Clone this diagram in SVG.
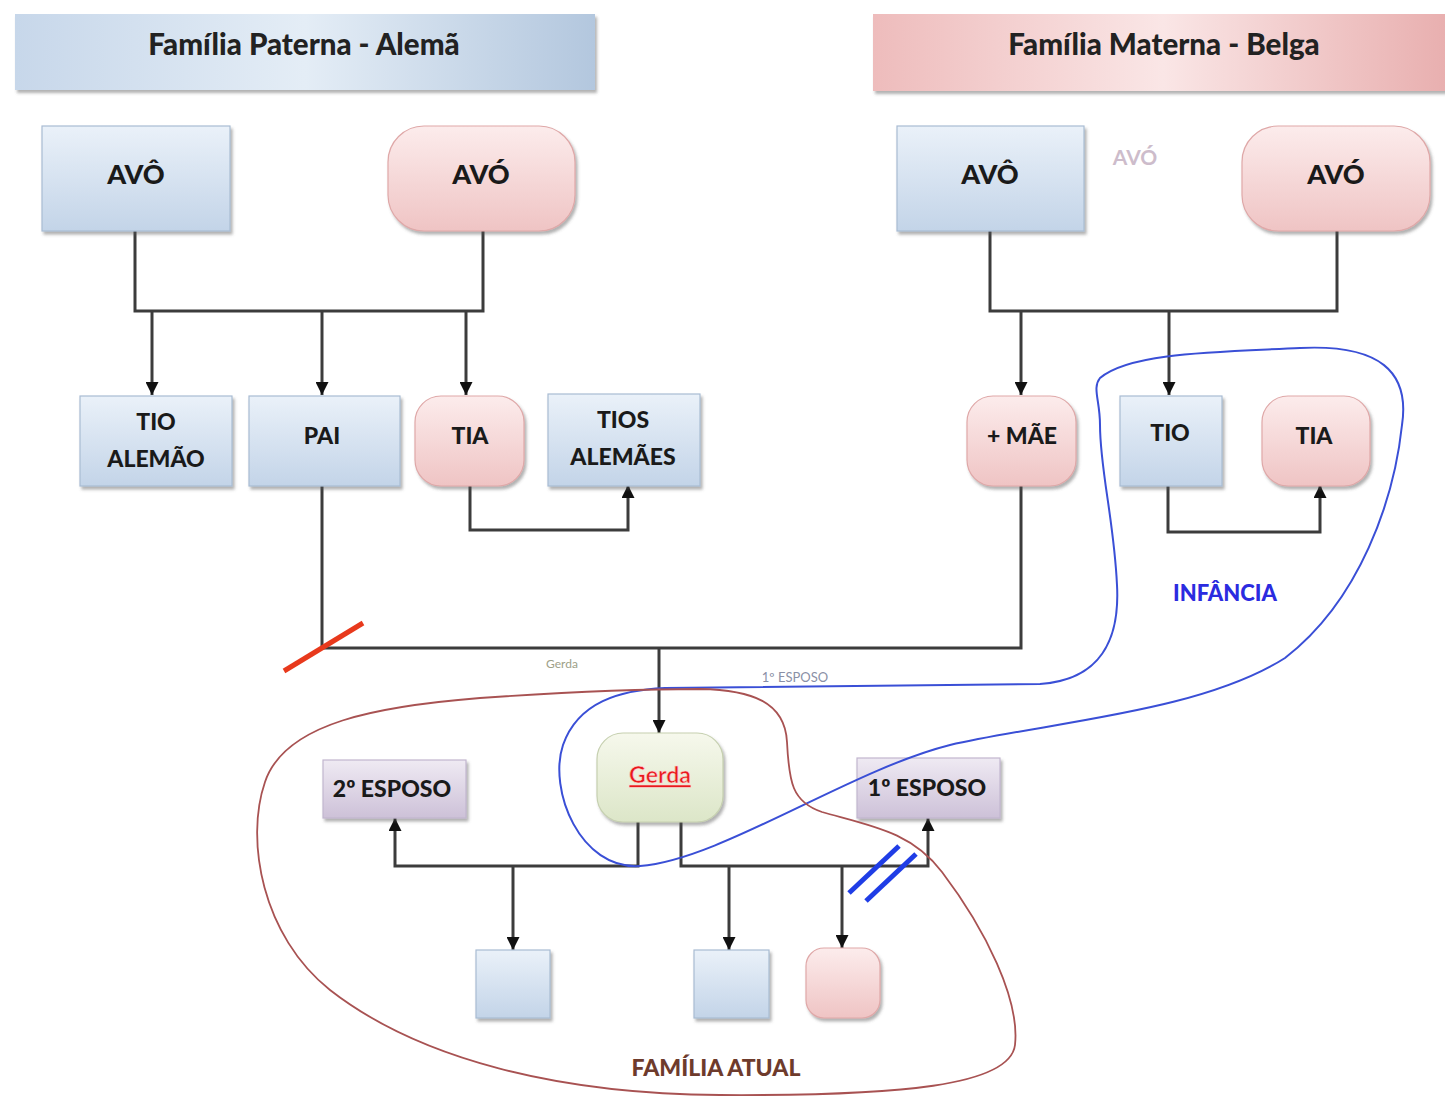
<svg xmlns="http://www.w3.org/2000/svg" width="1445" height="1096" viewBox="0 0 1445 1096">
<style>
.t{font-family:Lato,"Open Sans","Liberation Sans",sans-serif;font-weight:900;fill:#1a1a1a;text-anchor:middle}
.big{font-size:27px}
.mid{font-size:23px}
.hdr{font-size:29.5px;fill:#222}
.blue{fill:url(#gBlue);stroke:#a9bcd3;stroke-width:1.2}
.pink{fill:url(#gPink);stroke:#dfa8a8;stroke-width:1.2}
.purp{fill:url(#gPurp);stroke:#c2b6cf;stroke-width:1.2}
.con{fill:none;stroke:#3c3c3c;stroke-width:3}
.ca{fill:none;stroke:#3c3c3c;stroke-width:3;marker-end:url(#arr)}
.ghost{font-family:Lato,"Open Sans","Liberation Sans",sans-serif;text-anchor:middle}
</style>
<defs>
<linearGradient id="gBlue" x1="0" y1="0" x2="0" y2="1"><stop offset="0" stop-color="#eaf1f9"/><stop offset="1" stop-color="#c3d4e8"/></linearGradient>
<linearGradient id="gPink" x1="0" y1="0" x2="0" y2="1"><stop offset="0" stop-color="#fcecec"/><stop offset="1" stop-color="#efc4c4"/></linearGradient>
<linearGradient id="gPurp" x1="0" y1="0" x2="0" y2="1"><stop offset="0" stop-color="#efeaf3"/><stop offset="1" stop-color="#cdc1d8"/></linearGradient>
<linearGradient id="gGreen" x1="0" y1="0" x2="0" y2="1"><stop offset="0" stop-color="#f6f8ec"/><stop offset="1" stop-color="#dce6c8"/></linearGradient>
<linearGradient id="gHdrB" x1="0" y1="0" x2="1" y2="0"><stop offset="0" stop-color="#c7d7ea"/><stop offset="0.5" stop-color="#e4edf6"/><stop offset="1" stop-color="#b3c7de"/></linearGradient>
<linearGradient id="gHdrP" x1="0" y1="0" x2="1" y2="0"><stop offset="0" stop-color="#eebcbc"/><stop offset="0.5" stop-color="#fae6e6"/><stop offset="1" stop-color="#e8aeae"/></linearGradient>
<filter id="sh" x="-10%" y="-10%" width="125%" height="130%"><feDropShadow dx="2" dy="3" stdDeviation="1.5" flood-color="#555" flood-opacity="0.45"/></filter>
<marker id="arr" viewBox="0 0 10 10" refX="10" refY="5" markerWidth="13" markerHeight="13" markerUnits="userSpaceOnUse" orient="auto"><path d="M0,0 L10,5 L0,10 z" fill="#111"/></marker>
</defs>
<rect width="1445" height="1096" fill="#ffffff"/>

<g id="hdr-paterna"><rect x="15" y="14" width="580" height="76" fill="url(#gHdrB)" filter="url(#sh)"/><text class="t hdr" x="304" y="55">Família Paterna - Alemã</text></g>
<g id="hdr-materna"><rect x="873" y="14" width="580" height="77" fill="url(#gHdrP)" filter="url(#sh)"/><text class="t hdr" x="1164" y="55">Família Materna - Belga</text></g>

<g id="connectors">
<path class="con" d="M135,231 V311 H483 V231"/>
<path class="ca" d="M152,311 V395"/>
<path class="ca" d="M322,311 V395"/>
<path class="ca" d="M466,311 V395"/>
<path class="con" d="M990,231 V311 H1337 V231"/>
<path class="ca" d="M1021,311 V395"/>
<path class="ca" d="M1169,311 V395"/>
<path class="ca" d="M470,486 V530 H628 V485"/>
<path class="ca" d="M1168,486 V532 H1320 V485"/>
<path class="con" d="M322,486 V648 H1021 V486"/>
<path class="ca" d="M659,648 V733"/>
<path class="ca" d="M638,822 V866 H395 V818"/>
<path class="ca" d="M513,866 V950"/>
<path class="ca" d="M681,822 V866 H928 V818"/>
<path class="ca" d="M729,866 V950"/>
<path class="ca" d="M842,866 V948"/>
<line x1="284" y1="671" x2="363" y2="623" stroke="#e8391c" stroke-width="5"/>
<line x1="849" y1="893" x2="899" y2="846" stroke="#1f3de6" stroke-width="5"/>
<line x1="866" y1="901" x2="916" y2="854" stroke="#1f3de6" stroke-width="5"/>
</g>

<g id="avo-paterno"><rect class="blue" x="42" y="126" width="188" height="105" filter="url(#sh)"/><text class="t big" x="136" y="184">AVÔ</text></g>
<g id="avo-paterna"><rect class="pink" x="388" y="126" width="187" height="105" rx="36" filter="url(#sh)"/><text class="t big" x="481" y="184">AVÓ</text></g>
<g id="avo-materno"><rect class="blue" x="897" y="126" width="187" height="105" filter="url(#sh)"/><text class="t big" x="990" y="184">AVÔ</text></g>
<g id="avo-materna"><rect class="pink" x="1242" y="126" width="188" height="105" rx="36" filter="url(#sh)"/><text class="t big" x="1336" y="184">AVÓ</text></g>

<g id="tio-alemao"><rect class="blue" x="80" y="396" width="152" height="90" filter="url(#sh)"/><text class="t mid" x="156" y="430">TIO</text><text class="t mid" x="156" y="467">ALEMÃO</text></g>
<g id="pai"><rect class="blue" x="249" y="396" width="151" height="90" filter="url(#sh)"/><text class="t mid" x="322" y="444">PAI</text></g>
<g id="tia-paterna"><rect class="pink" x="415" y="396" width="109" height="90" rx="26" filter="url(#sh)"/><text class="t mid" x="470" y="444">TIA</text></g>
<g id="tios-alemaes"><rect class="blue" x="548" y="394" width="152" height="92" filter="url(#sh)"/><text class="t mid" x="623" y="428">TIOS</text><text class="t mid" x="623" y="465">ALEMÃES</text></g>
<g id="mae"><rect class="pink" x="967" y="396" width="109" height="90" rx="26" filter="url(#sh)"/><text class="t mid" x="1022" y="444">+ MÃE</text></g>
<g id="tio-materno"><rect class="blue" x="1120" y="396" width="102" height="90" filter="url(#sh)"/><text class="t mid" x="1170" y="441">TIO</text></g>
<g id="tia-materna"><rect class="pink" x="1262" y="396" width="108" height="90" rx="26" filter="url(#sh)"/><text class="t mid" x="1314" y="444">TIA</text></g>

<g id="gerda"><rect x="597" y="733" width="126" height="89" rx="26" fill="url(#gGreen)" stroke="#c6d0b0" stroke-width="1.2" filter="url(#sh)"/><text x="660" y="783" font-family="Lato,'Open Sans','Liberation Sans',sans-serif" font-size="23" font-weight="bold" fill="#e8191c" text-anchor="middle" text-decoration="underline" stroke="#ffd0d0" stroke-width="0.6">Gerda</text></g>
<g id="esposo2"><rect class="purp" x="323" y="760" width="143" height="58" filter="url(#sh)"/><text class="t mid" x="392" y="797">2º ESPOSO</text></g>
<g id="esposo1"><rect class="purp" x="857" y="758" width="143" height="60" filter="url(#sh)"/><text class="t mid" x="927" y="796">1º ESPOSO</text></g>

<g id="filho1"><rect class="blue" x="476" y="950" width="74" height="68" filter="url(#sh)"/></g>
<g id="filho2"><rect class="blue" x="694" y="950" width="75" height="68" filter="url(#sh)"/></g>
<g id="filha3"><rect class="pink" x="806" y="948" width="74" height="70" rx="18" filter="url(#sh)"/></g>

<g id="infancia">
<path d="M1100,378 C1130,352 1220,352 1300,348 C1380,344 1410,372 1402,425 C1394,500 1360,600 1285,658 C1200,712 1050,722 950,745 C850,770 720,860 640,866 C580,870 548,790 563,745 C578,702 620,690 665,688 L1040,684 C1100,680 1120,640 1117,585 C1114,520 1100,470 1100,425 C1100,400 1092,388 1100,378 Z" fill="none" stroke="#3a4fd6" stroke-width="2"/>
<text x="1225" y="601" font-family="Lato,'Open Sans','Liberation Sans',sans-serif" font-size="22" font-weight="900" fill="#2b2be0" text-anchor="middle">INFÂNCIA</text>
</g>
<g id="familia-atual">
<path d="M700,689 C752,690 785,702 787,742 C789,782 792,802 822,812 C872,826 912,832 942,872 C986,930 1020,1000 1015,1045 C1010,1086 900,1096 720,1095 C560,1094 420,1060 330,990 C262,936 245,840 265,782 C285,722 380,706 480,698 C580,691 650,689 700,689 Z" fill="none" stroke="#a85252" stroke-width="1.8"/>
<text x="716" y="1076" font-family="Lato,'Open Sans','Liberation Sans',sans-serif" font-size="23" font-weight="900" fill="#6e3b2c" text-anchor="middle">FAMÍLIA ATUAL</text>
</g>

<text class="ghost" x="1135" y="165" font-size="21" font-weight="bold" fill="#cdbccb">AVÓ</text>
<text class="ghost" x="562" y="668" font-size="12" fill="#9da087">Gerda</text>
<text class="ghost" x="795" y="682" font-size="13" fill="#8a90a6">1º ESPOSO</text>
</svg>
